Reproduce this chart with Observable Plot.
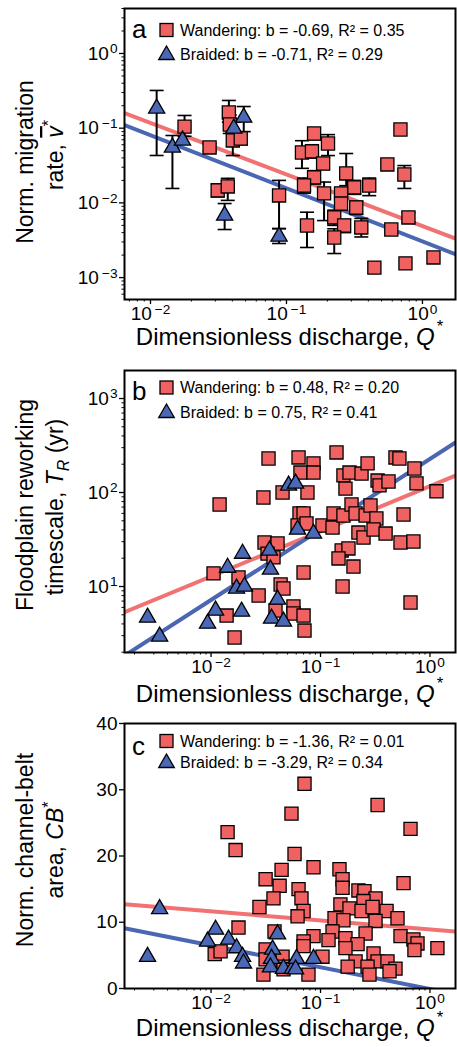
<!DOCTYPE html>
<html><head><meta charset="utf-8">
<script src="https://cdn.jsdelivr.net/npm/d3@7"></script>
<script src="https://cdn.jsdelivr.net/npm/@observablehq/plot@0.6"></script>
<style>
html,body{margin:0;padding:0;background:#fff;}
#chart{width:457px;}
#chart svg{display:block;}
</style></head>
<body><div id="chart"></div>
<script>
// ---------------- data ----------------
const seriesNames = ["Wandering", "Braided"];

// panel a: normalized migration rate vs dimensionless discharge
const aWandQ = [0.0178,0.0272,0.0377,0.0383,0.0403,0.0461,0.0312,0.0370,0.0882,0.1416,0.130,0.154,0.1596,0.202,0.186,0.1596,0.1346,0.189,0.275,0.315,0.406,0.252,0.252,0.326,0.2245,0.2655,0.355,0.2245,0.552,0.736,0.789,0.590,0.443,0.750,1.205,0.689];
const aWandV = [0.105,0.0552,0.162,0.112,0.0685,0.0728,0.0147,0.0166,0.01257,0.00498,0.0473,0.0488,0.0849,0.0624,0.0337,0.0219,0.0171,0.0134,0.0248,0.0161,0.0171,0.0134,0.0098,0.00868,0.00638,0.00498,0.00469,0.00344,0.0327,0.0240,0.00638,0.0044,0.00136,0.00155,0.00186,0.0961];
const aWandLo = [0.078,0.049,0.12,0.085,0.043,0.06,0.012,0.0108,0.0045,0.00253,0.029,0.04,0.07,0.043,0.028,0.018,0.0135,0.0058,0.017,0.013,0.0125,0.011,0.008,0.007,0.005,0.004,0.0035,0.0021,null,0.0156,0.0055,null,null,null,null,null];
const aWandHi = [0.148,0.062,0.235,0.15,0.09,0.088,0.018,0.0213,0.020,0.0075,0.068,0.06,0.1,0.082,0.04,0.027,0.0215,0.019,0.0458,0.02,0.0215,0.016,0.012,0.0105,0.008,0.006,0.0062,0.0045,null,0.0316,0.0074,null,null,null,null,null];
const aBraidQ = [0.0111,0.0145,0.0172,0.0410,0.0485,0.0351,0.0882];
const aBraidV = [0.184,0.0552,0.0685,0.0991,0.139,0.00678,0.00355];
const aBraidLo = [0.0431,0.0156,null,0.075,0.09,0.0044,0.00286];
const aBraidHi = [0.320,0.0798,null,0.12,0.195,0.0098,0.00455];
const aFitLogA = [-2.310, -2.515];
const aFitB = [-0.69, -0.71];
const aR2 = [0.35, 0.29];

// panel b: floodplain reworking timescale (yr)
const bWandQ = [0.0335,0.0630,0.0863,0.0656,0.0863,0.140,0.162,0.184,0.237,0.269,0.332,0.346,0.418,0.484,0.526,0.721,0.753,1.146,0.169,0.0760,0.0450,0.0301,0.01197,0.0643,0.0700,0.0617,0.0745,0.1042,0.1288,0.1315,0.162,0.192,0.209,0.258,0.286,0.324,0.222,0.247,0.305,0.393,0.538,0.706,0.573,0.156,0.180,0.146,0.200,0.159,0.664,0.0308,0.0405,0.0328,0.0372,0.0700,0.01054,0.01782,0.0432,0.0459,0.0272,0.0388,0.0566,0.0566,0.0700,0.0714,0.01387,0.0164];
const bWandT = [230,236,204,163,163,267,152,163,159,204,134,119,131,236,230,180,125,103,110,100,100,88.5,74.5,59.8,59.8,44.6,46.8,44.6,42.4,59.8,56.9,74.5,59.8,56.9,72.7,52.9,37.5,33.2,40.4,36.6,29.4,30.1,58.4,24.2,25.4,19.9,16.3,10,6.76,29.4,28.7,22.4,20.4,14.1,13.8,12.5,10.5,9.53,8.02,5.56,6.13,5.16,4.91,3.40,4.91,2.87];
const bBraidQ = [0.0511,0.0592,0.0617,0.0863,0.0194,0.0342,0.01416,0.0349,0.0171,0.0202,0.0405,0.0110,0.0190,0.00929,0.0357,0.0459,0.00263,0.00339];
const bBraidT = [119,125,40.4,36.6,22.4,24.2,15.9,15.2,9.53,10,7.28,5.56,5.42,4.04,4.57,4.25,4.68,2.94];
const bFitLogA = [2.067, 2.357];
const bFitB = [0.48, 0.75];
const bR2 = [0.20, 0.41];

// panel c: normalized channel-belt area
const cWandQ = [0.0714,0.0543,0.332,0.01416,0.664,0.01675,0.0579,0.0863,0.0441,0.0315,0.0423,0.149,0.159,0.159,0.573,0.0630,0.0670,0.0372,0.0277,0.0700,0.0617,0.222,0.252,0.318,0.247,0.152,0.184,0.237,0.299,0.401,0.505,0.1343,0.162,0.318,0.01782,0.1288,0.0863,0.258,0.538,0.706,0.769,1.169,0.721,0.1183,0.169,0.218,0.169,0.305,0.0700,0.0315,0.0700,0.0380,0.0450,0.1042,0.209,0.332,0.409,0.269,0.484,0.427,0.177,0.280,0.0776,0.0301,0.0450,0.0108,0.01222,0.0315,0.0459];
const cWandA = [30.9,26.4,27.7,23.6,24.1,20.9,20.3,18.3,17.9,16.5,15.5,18.0,16.5,15.2,15.9,15.0,13.6,13.6,12.3,11.7,10.9,14.8,14.7,13.6,13.2,12.7,12.1,11.7,12.3,11.7,10.6,10.6,10.3,10.2,9.2,8.6,7.9,8.3,7.9,7.4,6.8,6.1,5.8,7.3,7.6,6.7,6.1,5.3,7.1,5.9,6.4,8.6,4.8,4.8,4.1,4.1,4.1,3.3,3.0,2.6,3.3,2.1,2.1,2.1,3.3,5.2,5.6,4.4,2.9];
const cBraidQ = [0.00339,0.00263,0.0110,0.00929,0.01446,0.0171,0.0194,0.0198,0.0405,0.0365,0.0357,0.0349,0.0459,0.0554,0.0604,0.0592,0.0863];
const cBraidA = [12.0,4.8,8.9,7.1,7.4,6.1,4.8,3.8,8.2,5.9,4.5,3.2,3.0,3.0,4.5,2.9,4.5];
const cFitA = [8.92, -0.08];
const cFitB = [-1.36, -3.29];
const cR2 = [0.01, 0.34];

// tick values
const xMajorTicks = [0.01, 0.1, 1];
const aYMajorTicks = [0.001, 0.01, 0.1, 1];
const bYMajorTicks = [10, 100, 1000];
const cYTicks = [0, 10, 20, 30, 40];

// ---------------- styling ----------------
const FONT = "'Liberation Sans', Arial, Helvetica, sans-serif";
const RED = "#f06161", BLUE = "#4a68b6", RED_LINE = "#f07272", BLUE_LINE = "#4b66b3";
const W = 457;

function minorTicks([lo, hi]) {
  const out = [];
  for (let e = Math.floor(Math.log10(lo)); e <= Math.ceil(Math.log10(hi)); e++)
    for (let m = 2; m <= 9; m++) { const v = m * 10 ** e; if (v >= lo && v <= hi) out.push(v); }
  return out;
}
const logFmt = d => `10|${Math.round(Math.log10(d))}`;
const capSymbol = { draw(ctx, size) { const r = Math.sqrt(size / Math.PI); ctx.moveTo(-r, 0); ctx.lineTo(r, 0); } };

function rich(svg, x, y, parts, { size = 23, anchor = "middle", rotate = 0 } = {}) {
  const t = svg.append("text").attr("font-family", FONT).attr("font-size", size)
    .attr("text-anchor", anchor).attr("fill", "black")
    .attr("transform", `translate(${x},${y})` + (rotate ? ` rotate(${rotate})` : ""));
  let shift = 0;
  for (const p of parts) {
    const ts = t.append("tspan").text(p.t);
    let target = 0;
    if (p.sup) target = -p.sup * size;
    if (p.sub) target = p.sub * size;
    if (target !== shift) { ts.attr("dy", target - shift); shift = target; }
    if (p.italic) ts.attr("font-style", "italic");
    if (p.sup || p.sub) ts.attr("font-size", size * 0.7);
    if (p.overline) ts.attr("text-decoration", "overline");
    if (p.dx) ts.attr("dx", p.dx);
  }
  return t;
}

function panel(o) {
  const wand = o.wandQ.map((q, i) => ({ q, v: o.wandV[i], lo: o.wandLo ? o.wandLo[i] : null, hi: o.wandHi ? o.wandHi[i] : null }));
  const braid = o.braidQ.map((q, i) => ({ q, v: o.braidV[i], lo: o.braidLo ? o.braidLo[i] : null, hi: o.braidHi ? o.braidHi[i] : null }));
  const errs = [...wand, ...braid].filter(d => d.lo != null);
  const fit = (i) => o.xDomain.map(q => ({ q, v: o.yLog ? 10 ** (o.fitA[i] + o.fitB[i] * Math.log10(q)) : o.fitA[i] + o.fitB[i] * Math.log10(q) }));
  const yMinor = o.yLog ? minorTicks(o.yDomain) : [];
  const marks = [
    Plot.line(fit(0), { x: "q", y: "v", stroke: RED_LINE, strokeWidth: 4, clip: true }),
    Plot.line(fit(1), { x: "q", y: "v", stroke: BLUE_LINE, strokeWidth: 4, clip: true }),
    Plot.ruleX(errs, { x: "q", y1: "lo", y2: "hi", stroke: "black", strokeWidth: 2 }),
    Plot.dot(errs, { x: "q", y: "lo", symbol: capSymbol, r: 7, stroke: "black", strokeWidth: 1.6 }),
    Plot.dot(errs, { x: "q", y: "hi", symbol: capSymbol, r: 7, stroke: "black", strokeWidth: 1.6 }),
    Plot.dot(wand, { x: "q", y: "v", symbol: "square", r: 7.4, fill: RED, stroke: "black", strokeWidth: 1.3 }),
    Plot.dot(braid, { x: "q", y: "v", symbol: "triangle", r: 6, fill: BLUE, stroke: "black", strokeWidth: 1.3 }),
    Plot.axisX({ ticks: minorTicks(o.xDomain), tickSize: 2.5, tickFormat: () => "", strokeWidth: 1, label: null }),
    Plot.axisX({ ticks: xMajorTicks, tickSize: 5, tickPadding: 2, tickFormat: logFmt, strokeWidth: 1.3, fontSize: 19, label: null }),
    Plot.axisY({ ticks: o.yTicks, tickSize: 5, tickPadding: 2, tickFormat: o.yLog ? logFmt : d => String(d), strokeWidth: 1.3, fontSize: 19, label: null }),
    Plot.frame({ stroke: "black", strokeWidth: 2 })
  ];
  if (yMinor.length) marks.splice(8, 0, Plot.axisY({ ticks: yMinor, tickSize: 2.5, tickFormat: () => "", strokeWidth: 1, label: null }));
  const svgEl = Plot.plot({
    width: W, height: o.height,
    marginLeft: 124, marginRight: 2, marginTop: o.mt, marginBottom: o.mb,
    style: { fontFamily: FONT, fontSize: "19px", color: "black", background: "white" },
    x: { type: "log", domain: o.xDomain, label: null },
    y: { type: o.yLog ? "log" : "linear", domain: o.yDomain, label: null },
    marks
  });
  const svg = d3.select(svgEl);
  // superscript tick labels
  svg.selectAll("text").each(function () {
    const s = this.textContent;
    if (!s.includes("|")) return;
    const [base, e] = s.split("|");
    const n = +e;
    const el = d3.select(this).text(base);
    el.append("tspan").attr("dy", "-0.45em").attr("dx", n < 0 ? 3 : 1).attr("font-size", "0.72em")
      .text(n < 0 ? "\u2212" + Math.abs(n) : String(n));
  });
  // panel letter + legend
  const L = o.legend;
  const txt = (x, y, size, s) => svg.append("text").attr("x", x).attr("y", y).attr("text-anchor", "start")
    .attr("font-family", FONT).attr("font-size", size).attr("fill", "black").text(s);
  txt(132, L.letterY, 26, o.letter);
  svg.append("rect").attr("x", 166.5 - 6.5).attr("y", L.row1 - 6.5).attr("width", 13).attr("height", 13)
    .attr("fill", RED).attr("stroke", "black").attr("stroke-width", 1.3);
  svg.append("path").attr("d", d3.symbol(d3.symbolTriangle, 105)()).attr("transform", `translate(166.5,${L.row2 + 1})`)
    .attr("fill", BLUE).attr("stroke", "black").attr("stroke-width", 1.3);
  const fmt = (i) => `${seriesNames[i]}: b = ${o.fitB[i].toFixed(2)}, R\u00b2 = ${o.r2[i].toFixed(2)}`;
  txt(180, L.row1 + 5.5, 16, fmt(0));
  txt(180, L.row2 + 6, 16, fmt(1));
  // x title
  rich(svg, 289.5, o.xTitleY, [{ t: "Dimensionless discharge, " }, { t: "Q", italic: true }, { t: "*", sup: 0.55, dx: 2 }], { size: 24 });
  // y title
  rich(svg, 33, o.yTitle1C, o.yTitle1, { rotate: -90 });
  rich(svg, 63, o.yTitle2C, o.yTitle2, { rotate: -90 });
  return svgEl;
}

const A_X = [0.00644, 1.75], BC_X = [0.00162, 1.71];
const chart = document.getElementById("chart");

chart.appendChild(panel({
  letter: "a", height: 355, mt: 8, mb: 56, xDomain: A_X, yLog: true, yDomain: [5.09e-4, 4.0], yTicks: aYMajorTicks,
  wandQ: aWandQ, wandV: aWandV, wandLo: aWandLo, wandHi: aWandHi,
  braidQ: aBraidQ, braidV: aBraidV, braidLo: aBraidLo, braidHi: aBraidHi,
  fitA: aFitLogA, fitB: aFitB, r2: aR2,
  legend: { letterY: 38, row1: 30, row2: 54 },
  xTitleY: 345,
  yTitle1: [{ t: "Norm. migration" }], yTitle1C: 162,
  yTitle2: [{ t: "rate, " }, { t: "v", italic: true, overline: true }, { t: "*", sup: 0.4 }], yTitle2C: 155
}));

chart.appendChild(panel({
  letter: "b", height: 355, mt: 15, mb: 58, xDomain: BC_X, yLog: true, yDomain: [1.986, 1986], yTicks: bYMajorTicks,
  wandQ: bWandQ, wandV: bWandT, braidQ: bBraidQ, braidV: bBraidT,
  fitA: bFitLogA, fitB: bFitB, r2: bR2,
  legend: { letterY: 45, row1: 32.5, row2: 57 },
  xTitleY: 347,
  yTitle1: [{ t: "Floodplain reworking" }], yTitle1C: 150,
  yTitle2: [{ t: "timescale, " }, { t: "T", italic: true }, { t: "R", italic: true, sub: 0.25 }, { t: " (yr)" }], yTitle2C: 152
}));

chart.appendChild(panel({
  letter: "c", height: 337, mt: 13, mb: 59, xDomain: BC_X, yLog: false, yDomain: [0, 40], yTicks: cYTicks,
  wandQ: cWandQ, wandV: cWandA, braidQ: cBraidQ, braidV: cBraidA,
  fitA: cFitA, fitB: cFitB, r2: cR2,
  legend: { letterY: 45, row1: 31, row2: 52 },
  xTitleY: 326,
  yTitle1: [{ t: "Norm. channel-belt" }], yTitle1C: 140,
  yTitle2: [{ t: "area, " }, { t: "CB", italic: true }, { t: "*", sup: 0.4 }], yTitle2C: 140
}));
</script>
</body></html>
